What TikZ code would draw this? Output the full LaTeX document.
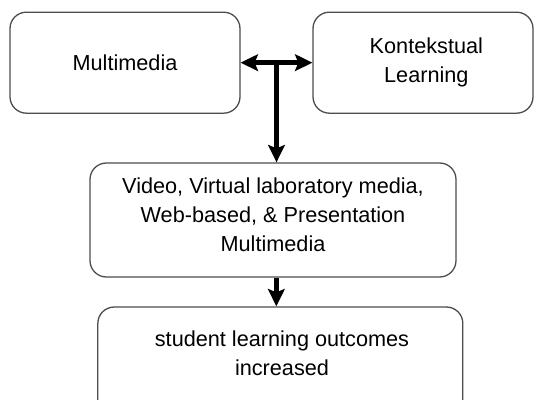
\documentclass[tikz,border=0pt]{standalone}
\usepackage{fontspec}
\setmainfont{Liberation Sans}
\usetikzlibrary{positioning,arrows.meta,calc}
\tikzset{
  box/.style={draw=black!70, line width=1.1pt, rounded corners=14pt, align=center, fill=white, font=\fontsize{18.5}{25}\selectfont},
  txt/.style={align=center, font=\fontsize{18.5}{25}\selectfont},
  arr/.style={-{Stealth[length=5.2mm, width=5mm, inset=1mm]}, line width=4pt},
  biarr/.style={{Stealth[length=5.2mm, width=5mm, inset=1mm]}-{Stealth[length=5.2mm, width=5mm, inset=1mm]}, line width=4pt},
}

\begin{document}
\begin{tikzpicture}
  \useasboundingbox (0,0) rectangle (16.02,-11.97);
  \node[box, minimum width=6.9cm, minimum height=3.03cm] (mm) at (3.75,-1.88) {Multimedia};
  \node[box, minimum width=6.6cm, minimum height=3.03cm] (kl) at (12.69,-1.88) {};
  \node[txt] (kl-t) at ([xshift=1mm]kl.center) {Kontekstual\\Learning};
  \node[box, minimum width=10.98cm, minimum height=3.42cm] (media) at (8.19,-6.6) {};
  \node[txt] (media-t) at ([yshift=1.6mm]media.center) {Video, Virtual laboratory media,\\Web-based, \& Presentation\\Multimedia};
  \node[box, minimum width=10.95cm, minimum height=3.3cm] (out) at (8.41,-10.86) {};
  \node[txt] (out-t) at ([xshift=0.5mm]8.41,-10.6) {student learning outcomes\\increased};
  \coordinate (join) at ($(mm.east)!0.5!(kl.west)$);
  \draw[biarr] (mm.east) -- (kl.west);
  \draw[arr] (join) -- (join |- media.north);
  \draw[arr] ([xshift=1mm]media.south) -- ([xshift=1mm]media.south |- out.north);
\end{tikzpicture}
\end{document}
